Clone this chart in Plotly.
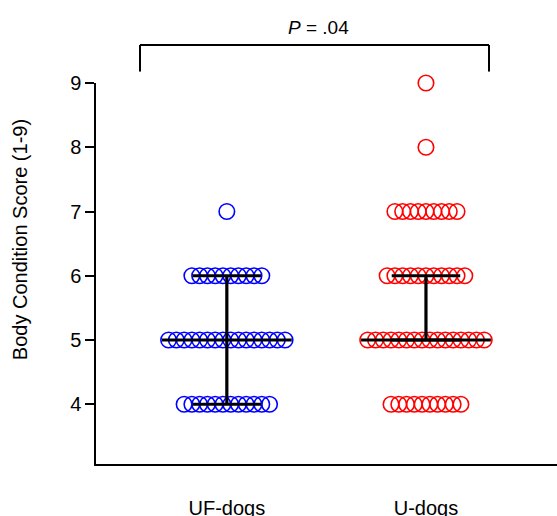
import numpy as np
import plotly.graph_objects as go

# Data: body condition scores and the number of dogs at each score
groups = ["UF-dogs", "U-dogs"]
uf_scores = [4, 5, 6, 7]
uf_counts = [12, 16, 10, 1]
u_scores = [4, 5, 6, 7, 8, 9]
u_counts = [10, 16, 11, 9, 1, 1]
colors = ["#0000ff", "#ff0000"]
y_ticks = [4, 5, 6, 7, 8, 9]
p_text = "<i>P</i> = .04"
y_title = "Body Condition Score (1-9)"

SPACING = 0.039      # horizontal gap between neighbouring dots (x units)
MED_HALF = 0.326     # half width of the median bar
Q_HALF = 0.172       # half width of the quartile bars

fig = go.Figure()

series = [(uf_scores, uf_counts), (u_scores, u_counts)]
for gi, (scores, counts) in enumerate(series):
    xs, ys = [], []
    for s, c in zip(scores, counts):
        for i in range(c):
            xs.append(gi + (i - (c - 1) / 2) * SPACING)
            ys.append(s)
    fig.add_trace(go.Scatter(
        x=xs, y=ys, mode="markers", cliponaxis=False, showlegend=False,
        marker=dict(symbol="circle-open", size=15.5, color=colors[gi],
                    line=dict(width=1.6, color=colors[gi])),
        hoverinfo="y"))

for gi, (scores, counts) in enumerate(series):
    vals = np.repeat(scores, counts)
    q1, med, q3 = np.percentile(vals, [25, 50, 75])
    lx, ly = [], []
    lx += [gi - MED_HALF, gi + MED_HALF, None]
    ly += [med, med, None]
    lx += [gi - Q_HALF, gi + Q_HALF, None]
    ly += [q1, q1, None]
    lx += [gi - Q_HALF, gi + Q_HALF, None]
    ly += [q3, q3, None]
    lx += [gi, gi]
    ly += [q1, q3]
    fig.add_trace(go.Scatter(x=lx, y=ly, mode="lines", showlegend=False,
                             line=dict(color="black", width=3.2),
                             hoverinfo="skip"))

# significance bracket
BX0, BX1, BY, BLEG = 0.0954, 0.8525, 1.0997, 1.03
for x0, x1, y0, y1 in [(BX0, BX1, BY, BY), (BX0, BX0, BY, BLEG),
                       (BX1, BX1, BY, BLEG)]:
    fig.add_shape(type="line", xref="paper", yref="paper",
                  x0=x0, x1=x1, y0=y0, y1=y1,
                  line=dict(color="black", width=2))
fig.add_annotation(xref="paper", yref="paper", x=0.482, y=1.146,
                   xanchor="center", yanchor="middle",
                   text=p_text, showarrow=False,
                   font=dict(size=19, color="black"))
# y-axis title
fig.add_annotation(xref="paper", yref="paper", x=-0.165, y=0.59,
                   xanchor="center", yanchor="middle", textangle=-90,
                   text=y_title, showarrow=False,
                   font=dict(size=20, color="black"))

fig.update_layout(
    width=557, height=516,
    margin=dict(l=96, r=0, t=83, b=52),
    paper_bgcolor="white", plot_bgcolor="white",
    font=dict(family="Liberation Sans, Arial, sans-serif", color="black"),
    xaxis=dict(range=[-0.657, 1.658], tickmode="array", tickvals=[0, 1],
               ticktext=groups, ticks="", showgrid=False, zeroline=False,
               showline=True, linecolor="black", linewidth=1.5,
               tickfont=dict(size=20), ticklabelstandoff=25,
               automargin=False),
    yaxis=dict(range=[3.07, 9], tickmode="array", tickvals=y_ticks,
               ticks="outside", ticklen=9, tickwidth=1.5, tickcolor="black",
               showgrid=False, zeroline=False, showline=True,
               linecolor="black", linewidth=1.5, tickfont=dict(size=20),
               automargin=False),
)

fig.write_html(
    "out.html",
    config={"displayModeBar": False},
    post_script="document.body.style.margin='0';"
                "document.body.style.overflow='hidden';",
)
